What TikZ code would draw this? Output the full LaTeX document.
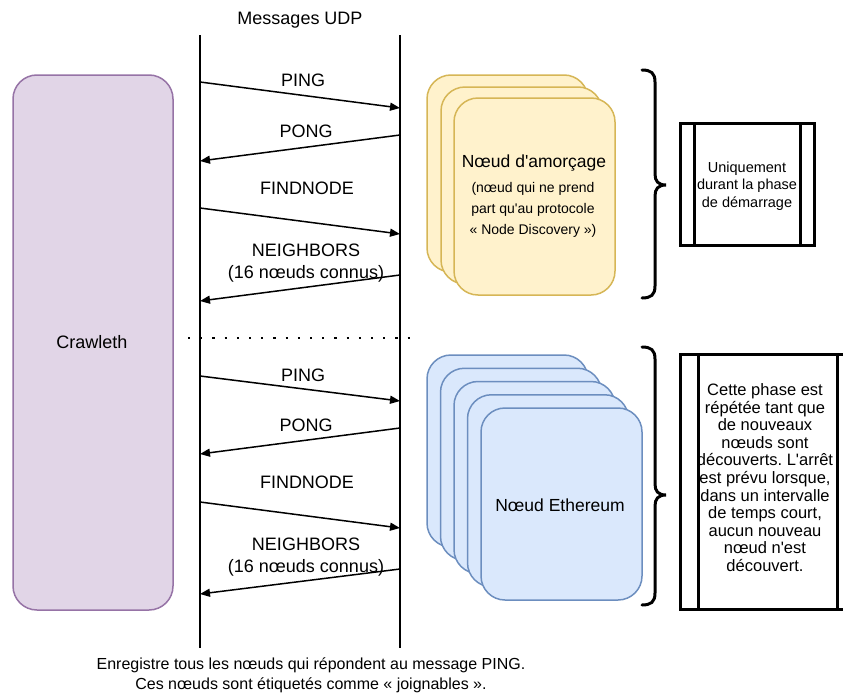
\documentclass[tikz,border=0pt]{standalone}
\usepackage{fontspec}
\setmainfont{Liberation Sans}
\usetikzlibrary{arrows.meta}
\frenchspacing
\definecolor{purpfill}{HTML}{E1D5E7}
\definecolor{purpline}{HTML}{9673A6}
\definecolor{yelfill}{HTML}{FFF2CC}
\definecolor{yelline}{HTML}{D6B656}
\definecolor{bluefill}{HTML}{DAE8FC}
\definecolor{blueline}{HTML}{6C8EBF}
\newcommand{\sq}{\textquotesingle}
\tikzset{
  lbl/.style={font=\fontsize{18}{21}\selectfont, inner sep=0pt, align=center},
  msg/.style={line width=1.5pt, -{Triangle[length=10pt,width=8pt]}},
  life/.style={line width=1.5pt},
  ycard/.style={draw=yelline, fill=yelfill, line width=1.5pt, rounded corners=24pt, minimum width=161pt, minimum height=197pt, inner sep=0pt},
  bcard/.style={draw=blueline, fill=bluefill, line width=1.5pt, rounded corners=24pt, minimum width=161pt, minimum height=192pt, inner sep=0pt},
  crawl/.style={draw=purpline, fill=purpfill, line width=1.5pt, rounded corners=24pt, minimum width=160pt, minimum height=535pt, inner sep=0pt},
  procbox/.style={draw=black, line width=3pt, inner sep=0pt},
  bracestyle/.style={line width=3pt, line cap=round},
  note/.style={font=\fontsize{14.5}{17.5}\selectfont, inner sep=0pt, align=center},
}
\begin{document}
\begin{tikzpicture}[x=1pt,y=-1pt]
\clip (0,0) rectangle (843,696);
\fill[white] (0,0) rectangle (843,696);

% title
\node[lbl] (title) at (300,20) {Messages UDP};

% Crawleth
\node[crawl] (crawleth) at (93,342.5) {};
\node[lbl] (crawltxt) at (92,342) {Crawleth};

% lifelines
\coordinate (l1t) at (200,35);
\coordinate (l1b) at (200,648);
\coordinate (l2t) at (400,35);
\coordinate (l2b) at (400,648);
\draw[life] (l1t) -- (l1b);
\draw[life] (l2t) -- (l2b);

% separator
\coordinate (sepL) at (188,338);
\coordinate (sepR) at (416,338);
\draw[line width=2.2pt, dash pattern=on 2.2pt off 10pt] (sepL) -- (sepR);

% top messages
\coordinate (a1s) at (200,82);  \coordinate (a1e) at (400,108);
\coordinate (a2s) at (400,135); \coordinate (a2e) at (200,161);
\coordinate (a3s) at (200,208); \coordinate (a3e) at (400,234);
\coordinate (a4s) at (400,275); \coordinate (a4e) at (200,301);
\draw[msg] (a1s) -- (a1e);
\draw[msg] (a2s) -- (a2e);
\draw[msg] (a3s) -- (a3e);
\draw[msg] (a4s) -- (a4e);
\node[lbl] (t1) at (303,80) {PING};
\node[lbl] (t2) at (306,131) {PONG};
\node[lbl] (t3) at (307,188) {FINDNODE};
\node[lbl] (t4) at (306,250) {NEIGHBORS};
\node[lbl] (t4b) at (306,274) {(16 nœuds connus)};

% bottom messages
\coordinate (b1s) at (200,376); \coordinate (b1e) at (400,401);
\coordinate (b2s) at (400,428); \coordinate (b2e) at (200,454);
\coordinate (b3s) at (200,502); \coordinate (b3e) at (400,528);
\coordinate (b4s) at (400,569); \coordinate (b4e) at (200,594);
\draw[msg] (b1s) -- (b1e);
\draw[msg] (b2s) -- (b2e);
\draw[msg] (b3s) -- (b3e);
\draw[msg] (b4s) -- (b4e);
\node[lbl] (u1) at (303,375) {PING};
\node[lbl] (u2) at (306,425) {PONG};
\node[lbl] (u3) at (307,482) {FINDNODE};
\node[lbl] (u4) at (306,544) {NEIGHBORS};
\node[lbl] (u4b) at (306,568) {(16 nœuds connus)};

% yellow stack
\node[ycard] (y1) at (507.5,173.5) {};
\node[ycard] (y2) at (521.5,185.5) {};
\node[ycard] (y3) at (534.5,196.5) {};
\node[font=\fontsize{17.5}{21}\selectfont, inner sep=0pt] (ytitle) at (534,163) {Nœud d\sq amorçage};
\node[font=\fontsize{14}{21}\selectfont, inner sep=0pt, align=center] (ysub) at (533,209.5) {(nœud qui ne prend\\part qu\sq au protocole\\« Node Discovery »)};

% blue stack
\node[bcard] (e1) at (507.5,451) {};
\node[bcard] (e2) at (521,464.25) {};
\node[bcard] (e3) at (534.5,477.5) {};
\node[bcard] (e4) at (548,490.75) {};
\node[bcard] (e5) at (561.5,504) {};
\node[font=\fontsize{17.5}{21}\selectfont, inner sep=0pt] (etitle) at (560,505) {Nœud Ethereum};

% braces
\draw[bracestyle] (642,70) .. controls (651,70) and (655,73) .. (655,82) -- (655,174) .. controls (655,181) and (658,185) .. (666,185) .. controls (658,185) and (655,189) .. (655,196) -- (655,286) .. controls (655,295) and (651,298) .. (642,298);
\draw[bracestyle] (642,347) .. controls (651,347) and (655,350) .. (655,359) -- (655,484) .. controls (655,491) and (658,495) .. (666,495) .. controls (658,495) and (655,499) .. (655,506) -- (655,593) .. controls (655,602) and (651,605) .. (642,605);

% process boxes
\node[procbox, minimum width=134pt, minimum height=122pt] (p1) at (747,184) {};
\draw[line width=3pt] (694,123) -- (694,245);
\draw[line width=3pt] (800,123) -- (800,245);
\node[note] (p1t) at (747,186) {Uniquement\\durant la phase\\de démarrage};

\node[procbox, minimum width=175pt, minimum height=255pt] (p2) at (767.5,481.5) {};
\draw[line width=3pt] (698,354) -- (698,609);
\draw[line width=3pt] (837,354) -- (837,609);
\node[font=\fontsize{16.5}{17.6}\selectfont, inner sep=0pt, align=center] (p2t) at (765,477.5) {Cette phase est\\répétée tant que\\de nouveaux\\nœuds sont\\découverts. L\sq arrêt\\est prévu lorsque,\\dans un intervalle\\de temps court,\\aucun nouveau\\nœud n\sq est\\découvert.};

% bottom caption
\node[font=\fontsize{16}{20}\selectfont, inner sep=0pt, align=center] (cap) at (311,675) {Enregistre tous les nœuds qui répondent au message PING.\\Ces nœuds sont étiquetés comme « joignables ».};
\end{tikzpicture}
\end{document}
